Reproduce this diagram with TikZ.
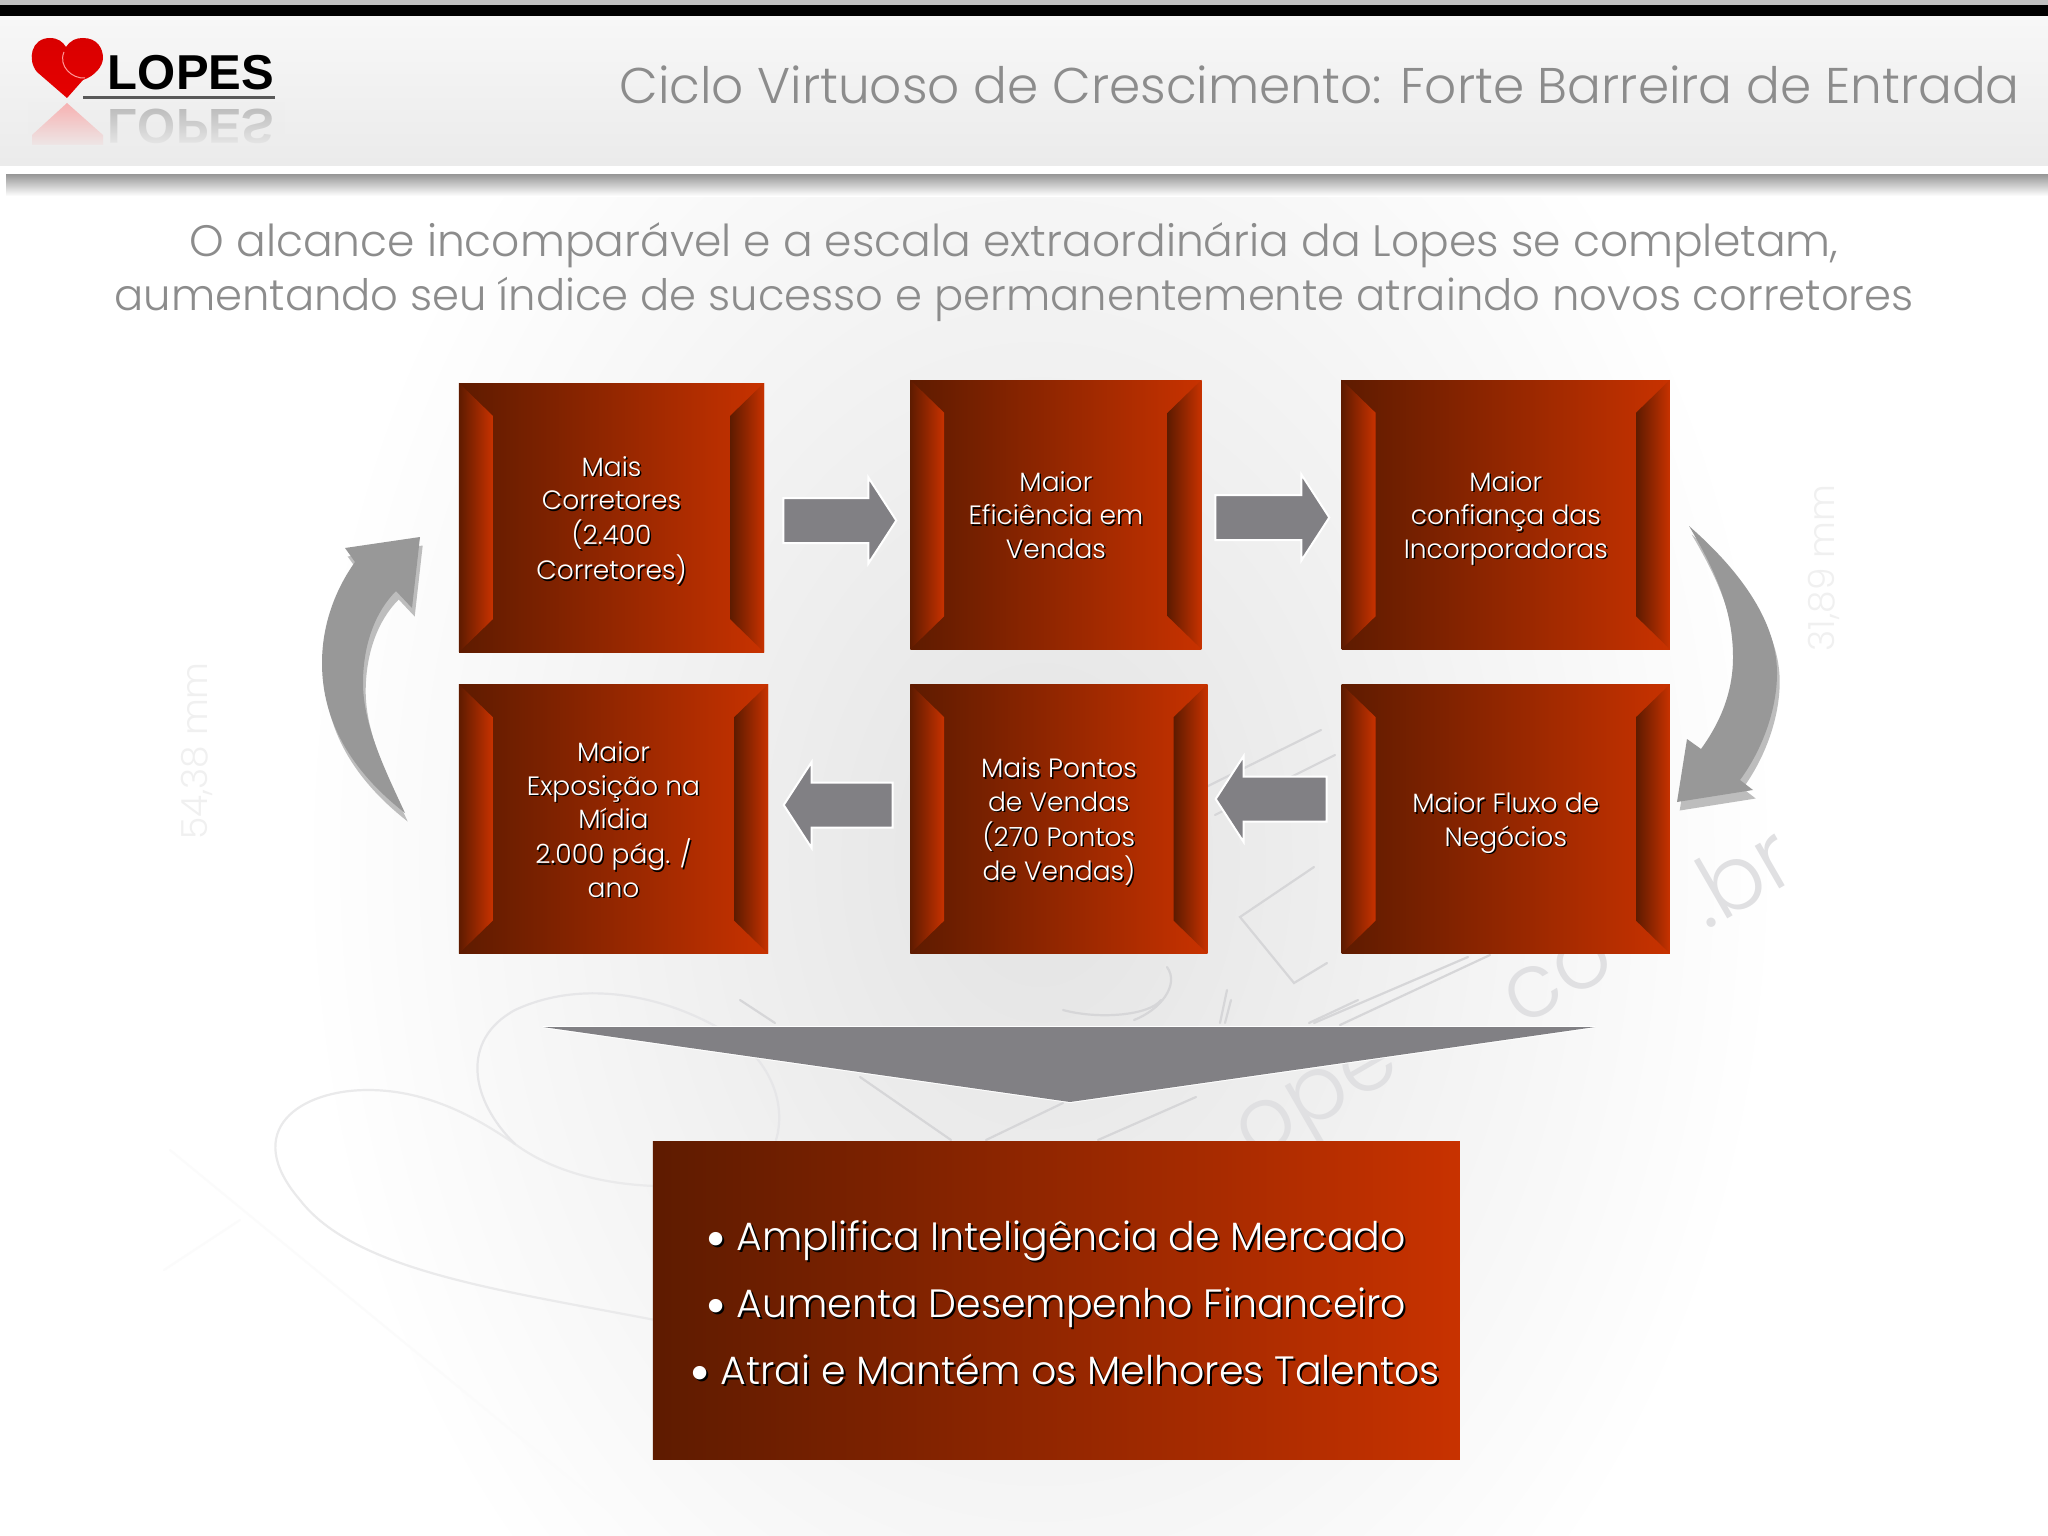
\documentclass[tikz,border=0pt]{standalone}
\usepackage{fontspec}
\usepackage{xcolor}
\usetikzlibrary{positioning,shapes.arrows,fadings}
\setmainfont{Poppins}[UprightFont=* Light]
\newfontfamily\logofont{Liberation Sans}[BoldFont=* Bold]
\definecolor{darkred}{HTML}{5E1B00}
\definecolor{brightred}{HTML}{C83200}
\definecolor{slatearrow}{HTML}{818084}
\definecolor{curvearrow}{HTML}{989898}
\definecolor{curveshadow}{HTML}{BDBDBD}
\definecolor{headtext}{HTML}{8C8C8C}
\definecolor{sketch}{HTML}{D6D6D8}
\newcommand{\shadowed}[2][1.5pt]{\raisebox{-4.5pt}[\height][\depth]{\rlap{\kern#1\raisebox{-#1}{\color{black}\begin{tabular}{@{}c@{}}#2\end{tabular}}}\begin{tabular}{@{}c@{}}#2\end{tabular}}}
\newcommand{\bul}{\makebox[31pt][l]{\raisebox{-8pt}{\fontsize{58}{58}\selectfont•}}}

\begin{document}
\begin{tikzpicture}[
    x=1pt, y=-1pt,
    redbox/.style={rectangle, inner sep=0pt, left color=darkred, right color=brightred,
                   text=white, align=center, font=\fontsize{26.5}{33.5}\selectfont},
    bevel/.style={left color=darkred, right color=brightred},
    blockarrow/.style={single arrow, draw=white, line width=2pt, fill=slatearrow, inner sep=0pt,
                       text height=21.5pt, text depth=21.5pt,
                       single arrow tip angle=114, single arrow head extend=20.5pt},
    sketchline/.style={draw=sketch, line width=2.2pt, line cap=round},
    sketchtext/.style={text=sketch!75, rotate=30, inner sep=0pt, font=\fontsize{90}{90}\selectfont}
]
\useasboundingbox (0,0) rectangle (2048,1536);
\begin{scope}
\clip (0,0) rectangle (2048,1536);
\fill[white] (0,0) rectangle (2048,1536);
% grey cloud behind the boxes
\shade[inner color=black!11, outer color=white] (1040,860) ellipse (740 and 1000);

% sketch behind the boxes
\draw[sketchline, draw=sketch!50] (655,1320) .. controls (500,1290) and (355,1271) .. (300,1200)
    .. controls (240,1130) and (300,1090) .. (368,1090) .. controls (430,1090) and (480,1120) .. (515,1144)
    .. controls (550,1170) and (600,1184) .. (655,1186);
\draw[sketchline, draw=sketch!60] (515,1144) .. controls (470,1100) and (460,1040) .. (515,1010)
    .. controls (590,975) and (680,1000) .. (738,1040) .. controls (776,1070) and (785,1110) .. (776,1140);
\draw[sketchline, draw=sketch!10] (170,1150) -- (640,1536) (164,1270) -- (240,1220);
\draw[sketchline] (740,1000) -- (775,1023) (860,1077) -- (951,1140) (986,1140) -- (1063,1103) (1098,1140) -- (1196,1097);
\draw[sketchline] (1161,1000) .. controls (1150,1015) and (1100,1020) .. (1063,1010) (1231,1000) -- (1225,1023) (1358,1000) -- (1309,1023);
\draw[sketchline] (1200,790) -- (1321,730) (1215,815) -- (1335,755);
\draw[sketchline] (1314,867) -- (1240,917) -- (1294,983) -- (1327,963);
\draw[sketchline] (1314,1023) -- (1468,957) (1340,1025) -- (1490,955);
\draw[sketchline] (1167,967) .. controls (1180,985) and (1160,1010) .. (1134,1020) (1227,990) -- (1220,1023);
\node[sketchtext] (wmope) at (1322,1106) {ope};
\node[sketchtext] (wmco) at (1558,978) {co};
\node[sketchtext] (wmbr) at (1738,875) {.br};
\node[rotate=90, text=black!6, font=\fontsize{36}{36}\selectfont] (sizeleft) at (197,751) {54,38 mm};
\node[rotate=90, text=black!6, font=\fontsize{36}{36}\selectfont] (sizeright) at (1824,568) {31,89 mm};

% header band
\shade[top color=black!45, bottom color=white] (6,172) rectangle (2048,196);
\shade[top color=black!3, bottom color=black!8] (0,15) rectangle (2048,168);
\fill[white] (0,166) rectangle (2048,174);
\fill[black] (0,5) rectangle (2048,16);
\fill[black!25] (0,0) rectangle (2048,5);
\end{scope}

% logo
\fill[red!55, opacity=.5] (67,103) -- (103,135) -- (103,155) -- (32,155) -- (32,135) -- cycle;
\node[font=\logofont\bfseries\fontsize{49}{49}\selectfont, text=black!70, opacity=.35, yscale=-1, transform shape, inner sep=0pt] (logoreflect) at (191,126) {LOPES};
\fill[black!7, path fading=north] (28,102) rectangle (285,150);
\begin{scope}
\clip (26,146) rectangle (287,160);
\shade[top color=black!3, bottom color=black!8] (0,15) rectangle (2048,168);
\end{scope}
\shade[top color=red!85!black, bottom color=red!90!black] (67,98) -- (37,72)
    .. controls (27,60) and (31,38) .. (50,38) .. controls (58,38) and (63,42) .. (66,47)
    .. controls (71,40) and (76,38) .. (83,38) .. controls (97,38) and (103,48) .. (103,58)
    .. controls (103,66) and (95,76) .. (83,80) -- cycle;
\draw[white!60!red, line width=1pt] (64,52) .. controls (58,66) and (72,79) .. (85,78);
\node[font=\logofont\bfseries\fontsize{49}{49}\selectfont, text=black, inner sep=0pt] (logo) at (191,73) {LOPES};
\draw[black!65, line width=3pt] (83,98) -- (275,98);

% titles
\node[anchor=east, text=headtext, font=\fontsize{50.15}{50}\selectfont, inner sep=0pt] (title) at (2020,85)
    {Ciclo Virtuoso de Crescimento: Forte Barreira de Entrada};
\node[text=headtext, align=center, font=\fontsize{43.3}{54}\selectfont, inner sep=0pt] (subtitle) at (1014,272)
    {{\fontsize{44}{54}\selectfont O alcance incomparável e a escala extraordinária da Lopes se completam,}\\
     aumentando seu índice de sucesso e permanentemente atraindo novos corretores};

% boxes
\node[redbox, minimum width=305pt, minimum height=269pt] (corretores) at (611.5,517.5)
    {\shadowed{Mais\\Corretores\\(2.400\\Corretores)}};
\node[redbox, minimum width=291pt, minimum height=269pt, right=146pt of corretores, yshift=3pt] (eficiencia)
    {\shadowed{Maior\\Eficiência em\\Vendas}};
\node[redbox, minimum width=328pt, minimum height=269pt, right=140pt of eficiencia] (confianca)
    {\shadowed{Maior\\confiança das\\Incorporadoras}};
\node[redbox, minimum width=309pt, minimum height=269pt, below=32pt of corretores, xshift=2pt] (exposicao)
    {\shadowed{Maior\\Exposição na\\Mídia\\2.000 pág. /\\ano}};
\node[redbox, minimum width=297pt, minimum height=269pt, below=35pt of eficiencia, xshift=3pt] (pontos)
    {\shadowed{Mais Pontos\\de Vendas\\(270 Pontos\\de Vendas)}};
\node[redbox, minimum width=328pt, minimum height=269pt, below=35pt of confianca] (fluxo)
    {\shadowed{Maior Fluxo de\\Negócios}};

\foreach \b in {corretores,eficiencia,confianca,exposicao,pontos,fluxo} {
    \shade[bevel] (\b.north west) -- ++(34,33) -- ([shift={(34,-33)}]\b.south west) -- (\b.south west) -- cycle;
    \shade[bevel] (\b.north east) -- ++(-34,33) -- ([shift={(-34,-33)}]\b.south east) -- (\b.south east) -- cycle;
}

% block arrows
\node[blockarrow, minimum height=113pt] (arrowa) at (832.5,520.5) {};
\node[blockarrow, minimum height=114pt] (arrowb) at (1265,517.5) {};
\node[blockarrow, minimum height=111pt, shape border rotate=180] (arrowc) at (1278.5,799) {};
\node[blockarrow, minimum height=109pt, shape border rotate=180] (arrowd) at (845.5,805) {};

% curved arrows
\fill[curveshadow, shift={(2.7,8.5)}] (1689,526) .. controls (1745,575) and (1777,625) .. (1777,673)
    .. controls (1777,710) and (1762,750) .. (1740,780) -- (1753,790) -- (1677,802) -- (1687,739) -- (1701,749)
    .. controls (1722,720) and (1733,690) .. (1733,657) .. controls (1733,610) and (1715,570) .. (1689,526) -- cycle;
\fill[curvearrow] (1689,526) .. controls (1745,575) and (1777,625) .. (1777,673)
    .. controls (1777,710) and (1762,750) .. (1740,780) -- (1753,790) -- (1677,802) -- (1687,739) -- (1701,749)
    .. controls (1722,720) and (1733,690) .. (1733,657) .. controls (1733,610) and (1715,570) .. (1689,526) -- cycle;
\fill[curveshadow, shift={(2.7,8.5)}] (405,813) .. controls (350,770) and (322,720) .. (322,663)
    .. controls (322,625) and (335,590) .. (355,562) -- (345,548) -- (420,537) -- (412,608) -- (396,591)
    .. controls (375,612) and (363,645) .. (363,683) .. controls (363,725) and (385,770) .. (405,813) -- cycle;
\fill[curvearrow] (405,813) .. controls (350,770) and (322,720) .. (322,663)
    .. controls (322,625) and (335,590) .. (355,562) -- (345,548) -- (420,537) -- (412,608) -- (396,591)
    .. controls (375,612) and (363,645) .. (363,683) .. controls (363,725) and (385,770) .. (405,813) -- cycle;

% funnel and summary box
\path[draw=white, line width=2pt, postaction={fill=slatearrow}] (543,1027) -- (1595,1027) -- (1070,1102) -- cycle;
\node[redbox, minimum width=807pt, minimum height=318pt, below=188pt of pontos, xshift=-2.5pt,
      font=\fontsize{39.5}{67}\selectfont] (summary)
    {\shadowed[2pt]{\makebox[734pt][l]{\hspace*{16pt}\bul Amplifica Inteligência de Mercado}\\
     \makebox[734pt][l]{\hspace*{16pt}\bul Aumenta Desempenho Financeiro}\\
     \makebox[734pt][l]{\bul Atrai e Mantém os Melhores Talentos}}};
\end{tikzpicture}
\end{document}
